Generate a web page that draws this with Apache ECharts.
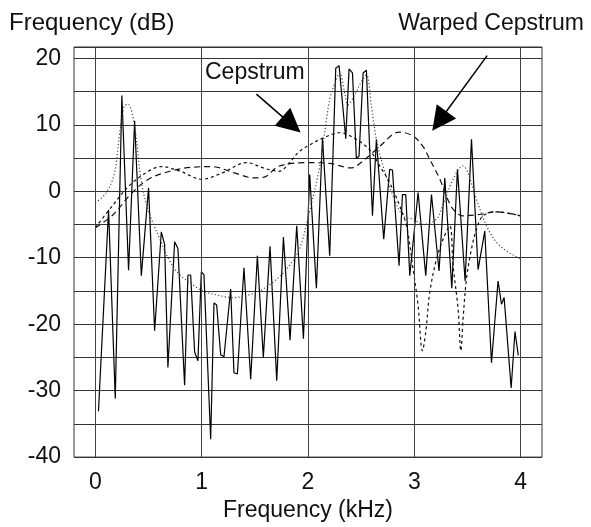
<!DOCTYPE html>
<html><head><meta charset="utf-8">
<script src="https://cdn.jsdelivr.net/npm/echarts@6/dist/echarts.min.js"></script>
<style>html,body{margin:0;padding:0;background:#fff}#c{width:591px;height:527px}</style>
</head><body><div id="c"></div>
<script>
// Measured spectrum (solid, jagged)
const spectrumFreq = [0.03,0.125,0.188,0.25,0.313,0.37,0.433,0.501,0.558,0.621,0.652,0.683,0.746,0.777,0.84,0.871,0.897,0.934,0.965,0.997,1.022,1.085,1.116,1.141,1.179,1.21,1.273,1.304,1.336,1.398,1.461,1.524,1.58,1.643,1.706,1.769,1.831,1.894,1.957,2.016,2.079,2.136,2.204,2.261,2.292,2.355,2.386,2.418,2.455,2.48,2.518,2.549,2.606,2.643,2.712,2.768,2.794,2.856,2.888,2.919,2.957,3.035,3.107,3.161,3.232,3.286,3.352,3.405,3.477,3.537,3.599,3.662,3.725,3.787,3.819,3.844,3.91,3.946,3.977];
const spectrumDb = [-33.1,-2.8,-31.2,14.4,-11.9,10.6,-12.7,0.5,-21,-6.1,-8,-26.5,-7.6,-8.6,-29.2,-12.6,-12.6,-24.2,-25.5,-12.1,-12.6,-37.3,-16.8,-17.1,-24.6,-24.9,-14.7,-27.3,-27.5,-11.5,-28.3,-9.7,-25,-8.3,-28.5,-6.9,-22.4,-5.2,-22.2,2.5,-14.6,8,-9.7,18.5,18.9,7.9,18.4,17.8,4.9,5.3,17.8,18.2,-3.7,7.8,-7.2,3.3,3.2,-11.2,-0.5,-0.5,-12.7,-0.2,-12.7,-0.5,-12,2,-14.6,3.3,-13.5,7.8,-11.8,-6,-25.8,-13.5,-17,-16,-29.6,-21.1,-24.7];

// Smooth envelope (fine dotted)
const envelopeFreq = [0,0.1,0.18,0.23,0.27,0.307,0.37,0.43,0.495,0.62,0.70,0.79,0.92,1.01,1.17,1.295,1.42,1.545,1.67,1.80,1.92,2.0,2.11,2.204,2.267,2.298,2.345,2.376,2.439,2.502,2.549,2.596,2.643,2.706,2.8,2.894,2.988,3.082,3.208,3.27,3.364,3.458,3.505,3.584,3.678,3.772,3.866,3.975,4.0];
const envelopeDb = [-1.7,-0.3,2.7,8.8,12.7,13.1,9.7,1.8,-2.7,-7.7,-10.5,-12.5,-14.1,-15.0,-15.7,-16.0,-15.7,-15.0,-13.7,-11.7,-8.7,-4.0,3.7,13.8,16.8,17.8,14.8,13.0,14.5,16.5,17.5,12.8,7.8,3.8,-0.7,-3.7,-4.2,-5.0,-4.2,-2.0,1.8,3.8,2.7,-1.2,-5.2,-7.7,-9.0,-10.0,-10.2];

// Cepstrum (short dashes)
const cepstrumFreq = [0,0.17,0.33,0.5,0.62,0.8,1.0,1.2,1.42,1.6,1.73,1.82,1.92,2.02,2.14,2.3,2.455,2.58,2.675,2.768,2.862,2.926,2.988,3.035,3.076,3.107,3.145,3.208,3.27,3.333,3.364,3.411,3.437,3.458,3.49,3.537,3.584,3.646,3.77,4.0];
const cepstrumDb = [-5.5,-2.0,1.0,3.0,3.7,3.0,1.8,2.8,4.3,3.4,3.0,4.2,6.0,7.0,8.0,8.8,7.8,6.2,3.8,1.3,-2.2,-5.2,-11.7,-17.2,-24,-21.2,-15.2,-10.2,-7.2,-5.2,-11.2,-17.7,-24,-19.2,-13.2,-8.7,-5.7,-3.7,-3.1,-3.7];

// Warped cepstrum (long dashes)
const warpedFreq = [0,0.17,0.33,0.5,0.7,0.9,1.1,1.3,1.5,1.6,1.73,2.0,2.2,2.4,2.55,2.67,2.86,2.988,3.082,3.145,3.24,3.30,3.364,3.458,3.61,3.77,4.0];
const warpedDb = [-5.5,-3.5,-0.5,1.8,3.0,3.6,3.7,2.8,2.0,2.2,3.8,4.3,4.2,3.5,5.0,6.7,8.9,8.3,6.7,4.8,1.8,-0.7,-2.7,-3.7,-3.5,-3.1,-3.7];

const xTickValues = [0,1,2,3,4];
const cepstrumArrow = [[1.515,14.6],[1.845,10.03]];
const warpedArrow = [[3.684,20.4],[3.235,10.56]];

const FONT = '"Liberation Sans", Arial, Helvetica, sans-serif';
const pair = (xs, ys) => xs.map((x, i) => [x, ys[i]]);
const chart = echarts.init(document.getElementById('c'), null, {renderer: 'canvas'});
const option = {
  animation: false,
  backgroundColor: '#fff',
  textStyle: {fontFamily: FONT},
  grid: {left: 74, right: 49, top: 47, bottom: 67, show: true, borderColor: '#333', borderWidth: 1},
  xAxis: {
    type: 'value', min: -0.2, max: 4.2,
    axisLine: {show: false}, axisTick: {show: false}, splitLine: {show: false},
    axisLabel: {customValues: xTickValues, fontSize: 23, color: '#111', fontFamily: FONT, margin: 14},
    name: 'Frequency (kHz)', nameLocation: 'middle', nameGap: 38,
    nameTextStyle: {fontSize: 23, color: '#111', fontFamily: FONT}
  },
  yAxis: {
    type: 'value', min: -40, max: 21.7, interval: 5,
    axisLine: {show: false}, axisTick: {show: false},
    splitLine: {show: true, lineStyle: {color: '#333', width: 1}},
    axisLabel: {fontSize: 23, color: '#111', fontFamily: FONT, margin: 13,
      formatter: v => (Math.abs(v % 10) < 1e-6 ? String(v) : '')}
  },
  graphic: [
    {type: 'text', x: 9, y: 23, style: {text: 'Frequency (dB)', font: '24px ' + FONT, fill: '#111', align: 'left', verticalAlign: 'middle'}},
    {type: 'text', x: 584, y: 23.5, style: {text: 'Warped Cepstrum', font: '23px ' + FONT, fill: '#111', align: 'right', verticalAlign: 'middle'}},
    {type: 'text', x: 205, y: 73, style: {text: 'Cepstrum', font: '23px ' + FONT, fill: '#111', align: 'left', verticalAlign: 'middle'}}
  ],
  series: [
    {type: 'line', data: [], silent: true, z: 1,
      markLine: {silent: true, symbol: 'none', label: {show: false}, animation: false,
        lineStyle: {color: '#444', width: 1, type: 'solid'},
        emphasis: {disabled: true},
        data: xTickValues.map(v => ({xAxis: v}))}},
    {type: 'line', data: pair(spectrumFreq, spectrumDb), showSymbol: false, z: 3,
      lineStyle: {color: '#000', width: 1.2}},
    {type: 'line', data: pair(envelopeFreq, envelopeDb), showSymbol: false, smooth: 0.35, z: 3,
      lineStyle: {color: '#444', width: 1.2, type: [1.2, 2.2]}},
    {type: 'line', data: pair(cepstrumFreq, cepstrumDb), showSymbol: false, smooth: 0.35, z: 3,
      lineStyle: {color: '#111', width: 1.2, type: [3, 3]}},
    {type: 'line', data: pair(warpedFreq, warpedDb), showSymbol: false, smooth: 0.35, z: 3,
      lineStyle: {color: '#111', width: 1.2, type: [6, 4]}},
    {type: 'line', data: [], silent: true, z: 5,
      markLine: {silent: true, symbol: ['none', 'triangle'], symbolSize: 24, label: {show: false}, animation: false,
        lineStyle: {color: '#000', width: 1.5, type: 'solid'},
        itemStyle: {color: '#000'},
        emphasis: {disabled: true},
        data: [
          [{coord: cepstrumArrow[0]}, {coord: cepstrumArrow[1]}],
          [{coord: warpedArrow[0]}, {coord: warpedArrow[1]}]
        ]}}
  ]
};
chart.setOption(option);
</script></body></html>
